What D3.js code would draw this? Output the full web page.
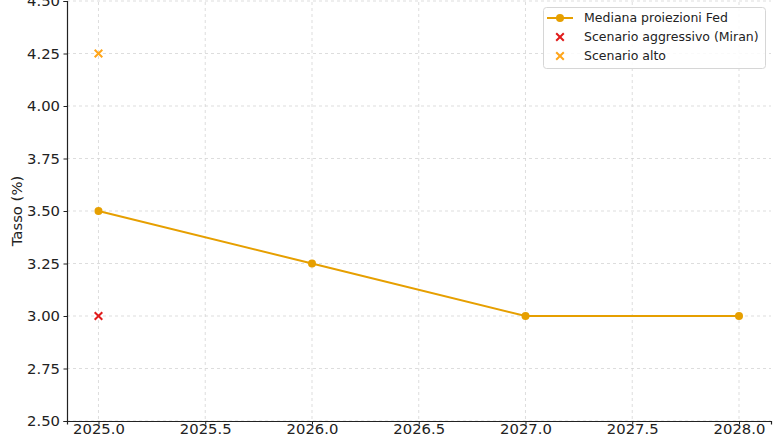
<!DOCTYPE html>
<html><head><meta charset="utf-8">
<script src="https://cdn.jsdelivr.net/npm/d3@7"></script>
<style>body{margin:0;background:#fff}svg{display:block;font-family:"DejaVu Sans",sans-serif}</style>
</head><body><svg id="c" width="780" height="438"></svg>
<script>
const years = [2025, 2026, 2027, 2028];
const fedMedian = [3.5, 3.25, 3.0, 3.0];
const aggressiveYear = [2025];
const aggressiveValue = [3.0];
const highYear = [2025];
const highValue = [4.25];
const xTicks = [2025.0, 2025.5, 2026.0, 2026.5, 2027.0, 2027.5, 2028.0];
const yTicks = [2.5, 2.75, 3.0, 3.25, 3.5, 3.75, 4.0, 4.25, 4.5];
const legendLabels = ["Mediana proiezioni Fed", "Scenario aggressivo (Miran)", "Scenario alto"];

const svg = d3.select("#c");
const L = 67, R = 771, T = 1, B = 421;
const x = d3.scaleLinear().domain([2024.8525, 2028.1499]).range([L, R]);
const y = d3.scaleLinear().domain([2.5, 4.5]).range([B, T]);

// grid
const g = svg.append("g");
g.selectAll(".gx").data(xTicks).enter().append("line")
 .attr("x1", d => x(d)).attr("x2", d => x(d)).attr("y1", T - 5).attr("y2", B)
 .attr("stroke", "#d4d4d4").attr("stroke-width", 0.8).attr("stroke-dasharray", "3,3");
g.selectAll(".gy").data(yTicks).enter().append("line")
 .attr("x1", L).attr("x2", R).attr("y1", d => y(d)).attr("y2", d => y(d))
 .attr("stroke", "#d4d4d4").attr("stroke-width", 0.8).attr("stroke-dasharray", "3,3");

// axes
const xa = svg.append("g").attr("transform", `translate(0,${B})`)
 .call(d3.axisBottom(x).tickValues(xTicks).tickFormat(d3.format(".1f")).tickSize(3.5).tickPadding(1));
const ya = svg.append("g").attr("transform", `translate(${L},0)`)
 .call(d3.axisLeft(y).tickValues(yTicks).tickFormat(d3.format(".2f")).tickSize(3.5).tickPadding(3.5));
[xa, ya].forEach(a => {
  a.select(".domain").attr("stroke", "#222").attr("stroke-width", 1.2);
  a.selectAll(".tick line").attr("stroke", "#222");
  a.selectAll("text").attr("font-size", 14.8).attr("fill", "#222").attr("font-family", "DejaVu Sans");
});
xa.selectAll("text").attr("dy", "0.6em");

svg.append("text").attr("transform", `translate(17,${(T + B) / 2}) rotate(-90)`)
 .attr("text-anchor", "middle").attr("dy", "0.35em").attr("font-size", 14.8).attr("fill", "#222").text("Tasso (%)");

const col = "#E69F00";
const pts = years.map((d, i) => [d, fedMedian[i]]);
svg.append("path").datum(pts)
 .attr("d", d3.line().x(d => x(d[0])).y(d => y(d[1])))
 .attr("fill", "none").attr("stroke", col).attr("stroke-width", 2);
svg.selectAll(".pt").data(pts).enter().append("circle")
 .attr("cx", d => x(d[0])).attr("cy", d => y(d[1])).attr("r", 4).attr("fill", col);

function cross(sel, cx, cy, c, s) {
  sel.append("path").attr("d", `M${cx - s},${cy - s}L${cx + s},${cy + s}M${cx - s},${cy + s}L${cx + s},${cy - s}`)
   .attr("stroke", c).attr("stroke-width", 2).attr("fill", "none");
}
aggressiveYear.forEach((d, i) => cross(svg, x(d), y(aggressiveValue[i]), "#e01b1b", 3.8));
highYear.forEach((d, i) => cross(svg, x(d), y(highValue[i]), "#FFA51A", 3.8));

// legend
const lg = svg.append("g");
lg.append("rect").attr("x", 543.5).attr("y", 7.5).attr("width", 222).attr("height", 61).attr("rx", 3)
 .attr("fill", "#fff").attr("fill-opacity", 0.85).attr("stroke", "#d6d6d6");
const ly = [18, 37, 56];
lg.append("line").attr("x1", 547).attr("x2", 573).attr("y1", ly[0]).attr("y2", ly[0]).attr("stroke", col).attr("stroke-width", 2);
lg.append("circle").attr("cx", 560).attr("cy", ly[0]).attr("r", 4).attr("fill", col);
cross(lg, 560, ly[1], "#e01b1b", 3.8);
cross(lg, 560, ly[2], "#FFA51A", 3.8);
lg.selectAll(".lt").data(legendLabels).enter().append("text")
 .attr("x", 584).attr("y", (d, i) => ly[i]).attr("dy", "0.35em")
 .attr("font-size", 12.5).attr("fill", "#222").text(d => d);
</script></body></html>
